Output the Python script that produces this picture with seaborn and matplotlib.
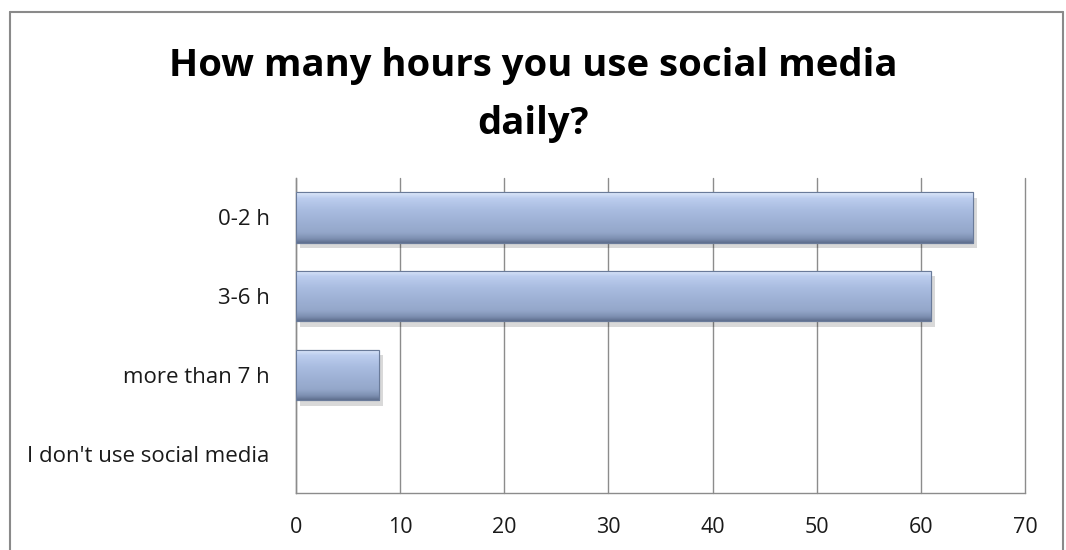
import numpy as np
import pandas as pd
import seaborn as sns
import matplotlib
matplotlib.use("Agg")
import matplotlib.pyplot as plt
from matplotlib.colors import LinearSegmentedColormap
import matplotlib.patheffects as pe
from matplotlib.lines import Line2D

categories = ["0-2 h", "3-6 h", "more than 7 h", "I don't use social media"]
values = [65, 61, 8, 0]
x_ticks = [0, 10, 20, 30, 40, 50, 60, 70]
title = "How many hours you use social media\ndaily?"

sns.set_theme(style="white")
plt.rcParams['font.family'] = ['Open Sans', 'DejaVu Sans']

fig = plt.figure(figsize=(10.66, 5.5), dpi=100)
ax = fig.add_axes([296/1066, 1-493/550, (1025-296)/1066, (493-178)/550])

df = pd.DataFrame({"category": categories, "value": values})
sns.barplot(data=df, x="value", y="category", orient="h", ax=ax,
            color="#a3b6d9", width=0.64, edgecolor="#6a7b9a", linewidth=0.8,
            zorder=3)

ax.set_xlim(x_ticks[0], x_ticks[-1])
ax.set_xticks(x_ticks)
ax.set_xlabel("")
ax.set_ylabel("")
ax.tick_params(axis="x", length=0, pad=17, labelsize=15.5, colors="#1a1a1a")
ax.tick_params(axis="y", length=0, pad=19, labelsize=16, colors="#1a1a1a")

ax.grid(False)
for xv in x_ticks:
    ax.axvline(xv, color="#8c8c8c", lw=1.0, zorder=1, clip_on=False)
for s in ["top", "right"]:
    ax.spines[s].set_visible(False)
for s in ["left", "bottom"]:
    ax.spines[s].set_color("#8c8c8c")
    ax.spines[s].set_linewidth(1.0)

# gradient fill on bars
cmap = LinearSegmentedColormap.from_list(
    "bevel", [(0.0, "#dfeafb"), (0.12, "#bccdee"), (0.35, "#a9bce0"),
              (0.8, "#93a6c9"), (0.92, "#7c8eb0"), (1.0, "#5d6d8c")])
grad = np.linspace(0, 1, 256).reshape(-1, 1)
for patch in ax.patches:
    w = patch.get_width()
    if w <= 0:
        patch.set_visible(False)
        continue
    x0, y0 = patch.get_x(), patch.get_y()
    h = patch.get_height()
    patch.set_path_effects([pe.SimplePatchShadow(offset=(3, -4), shadow_rgbFace="#000000", alpha=0.15),
                            pe.Normal()])
    im = ax.imshow(grad, cmap=cmap, aspect="auto",
                   extent=(x0, x0 + w, y0 + h, y0), zorder=4,
                   interpolation="bicubic")
    im.set_clip_path(patch)
    edge = plt.Rectangle((x0, y0), w, h, fill=False, edgecolor="#6a7b9a", lw=0.8, zorder=5)
    ax.add_patch(edge)

ax.set_ylim(len(categories) - 0.5, -0.5)
ax.set_xlim(x_ticks[0], x_ticks[-1])

fig.text(0.5, 1 - 95/550, title, ha="center", va="center", fontsize=27.5,
         fontweight="bold", color="#000000", linespacing=1.68)

# outer chart frame
fc = "#8a8a8a"
fig.add_artist(Line2D([10/1066, 10/1066], [0, 1-12/550], color=fc, lw=1.5, transform=fig.transFigure))
fig.add_artist(Line2D([10/1066, 1063/1066], [1-12/550, 1-12/550], color=fc, lw=1.5, transform=fig.transFigure))
fig.add_artist(Line2D([1063/1066, 1063/1066], [0, 1-12/550], color=fc, lw=1.5, transform=fig.transFigure))

fig.savefig("out.png", dpi=100, facecolor="white")
